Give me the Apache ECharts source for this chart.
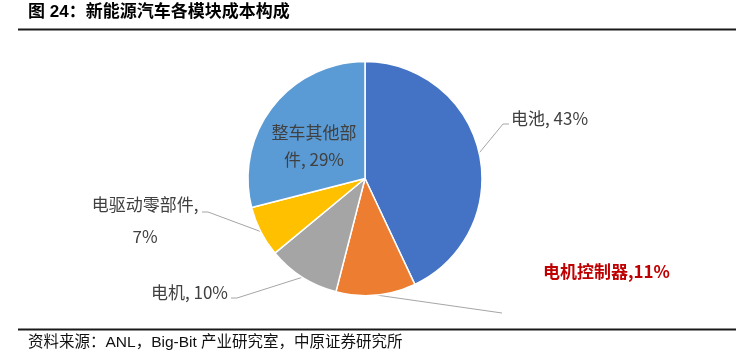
<!DOCTYPE html>
<html><head><meta charset="utf-8">
<script src="https://cdn.jsdelivr.net/npm/echarts@6/dist/echarts.min.js"></script>
<style>html,body{margin:0;padding:0;background:#fff}#c{width:746px;height:355px}</style>
</head><body><div id="c"></div>
<script>
const titleText = '图 24：新能源汽车各模块成本构成';
const sourceText = '资料来源：ANL，Big-Bit 产业研究室，中原证券研究所';
const categories = ['电池', '电机控制器', '电机', '电驱动零部件', '整车其他部件'];
const shares = [43, 11, 10, 7, 29];
const colors = ['#4472C4', '#ED7D31', '#A5A5A5', '#FFC000', '#5B9BD5'];

// label placement (layout only)
const labelSpots = [
  {x: 511, y: 119, align: 'left', line: [[503, 124], [509, 124]]},
  {x: 543, y: 272, align: 'left', line: [[502, 313]]},
  {x: 228, y: 293, align: 'right', line: [[237, 298], [231, 298]]},
  {x: 145, y: 221, align: 'center', line: [[208, 212], [202, 212]]},
  {x: 314, y: 146, align: 'center', line: null}
];
const labelStyles = [
  {formatter: '{b}, {c}%'},
  {formatter: '{b},{c}%', color: '#C00000', fontWeight: 'bold'},
  {formatter: '{b}, {c}%'},
  {formatter: '{b},\n{c}%', lineHeight: 32},
  {formatter: '{b}, {c}%', position: 'inside', width: 90, overflow: 'break', lineHeight: 27}
];

const cjk = '"Noto Sans CJK SC", "Noto Sans", sans-serif';
const chart = echarts.init(document.getElementById('c'), null, {renderer: 'canvas'});
chart.setOption({
  animation: false,
  backgroundColor: '#fff',
  title: [
    {text: titleText, left: 28, top: 4, padding: 0,
     textStyle: {fontSize: 17, fontWeight: 'bold', color: '#000', fontFamily: '"Liberation Sans", ' + cjk}},
    {text: sourceText, left: 28, top: 335, padding: 0,
     textStyle: {fontSize: 15.5, fontWeight: 'normal', color: '#111', fontFamily: '"Liberation Sans", ' + cjk}}
  ],
  graphic: [
    {type: 'line', shape: {x1: 18, y1: 29.5, x2: 736, y2: 29.5}, style: {stroke: '#1a1a1a', lineWidth: 2}},
    {type: 'line', shape: {x1: 18, y1: 329.5, x2: 736, y2: 329.5}, style: {stroke: '#1a1a1a', lineWidth: 2}}
  ],
  series: [{
    type: 'pie',
    center: [365, 178.5],
    radius: 117,
    startAngle: 90,
    clockwise: true,
    silent: true,
    avoidLabelOverlap: false,
    itemStyle: {borderColor: '#fff', borderWidth: 1.5},
    label: {show: true, position: 'outside', fontSize: 17, color: '#404040', fontFamily: cjk},
    labelLine: {show: true, lineStyle: {color: '#A6A6A6', width: 1}},
    labelLayout: function (params) {
      const s = labelSpots[params.dataIndex];
      const out = {x: s.x, y: s.y, align: s.align, verticalAlign: 'middle'};
      if (s.line && params.labelLinePoints) {
        out.labelLinePoints = [params.labelLinePoints[0]].concat(s.line);
      }
      return out;
    },
    data: categories.map((name, i) => ({
      name: name,
      value: shares[i],
      itemStyle: {color: colors[i]},
      label: labelStyles[i],
      labelLine: {show: labelStyles[i].position !== 'inside'}
    }))
  }]
});
</script>
</body></html>
